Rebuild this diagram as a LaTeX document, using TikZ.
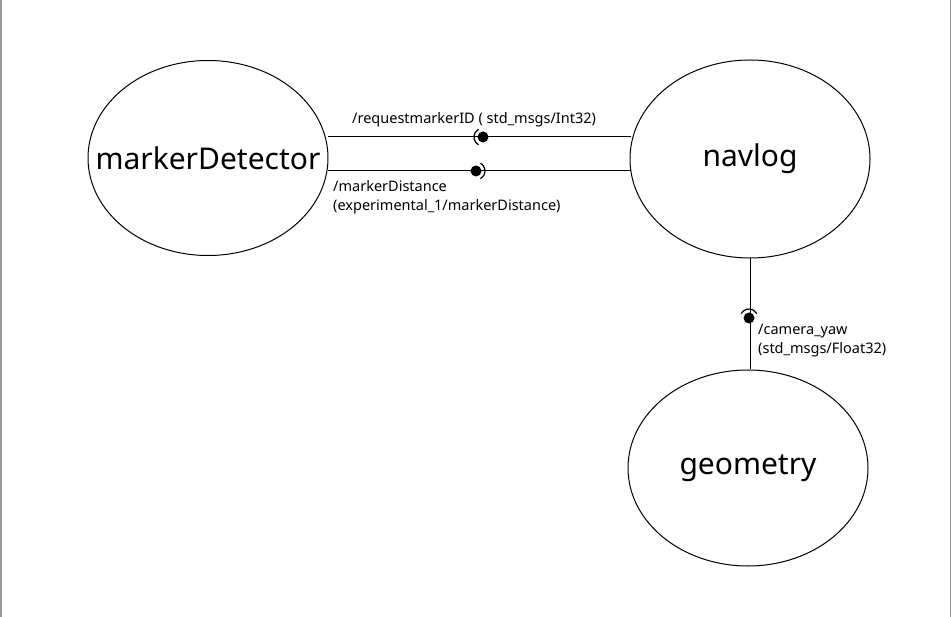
\documentclass[tikz,border=0pt]{standalone}
\usepackage{fontspec}
\setmainfont{Noto Sans}
\usetikzlibrary{shapes.geometric}
\begin{document}
\begin{tikzpicture}[x=1pt,y=-1pt,
  rosnode/.style={draw,ellipse,minimum width=240pt,minimum height=195pt,inner sep=0pt,font=\fontsize{30}{34}\selectfont, line width=1pt},
  lbl/.style={font=\fontsize{14.5}{19}\selectfont,inner sep=0pt,align=left},
  wire/.style={line width=1pt},
  ball/.style={circle,fill=black,minimum size=11pt,inner sep=0pt},
  sock/.style={line width=1.2pt}]
\useasboundingbox (0,0) rectangle (951,617);
\fill[white] (0,0) rectangle (951,617);
\draw[gray!80,line width=1.5pt] (0.75,0) -- (0.75,617);
\draw[gray!80,line width=1pt] (950.5,0) -- (950.5,617);
\node[rosnode] (md) at (208,158) {\makebox[0pt]{markerDetector}};
\node[rosnode,minimum height=198pt] (nav) at (750,159) {\makebox[0pt]{navlog}};
\node[rosnode,minimum height=196pt] (geo) at (748,468) {\makebox[0pt]{geometry}};
% top connector
\coordinate (a1) at (328,137);
\coordinate (b1) at (631,137);
\draw[wire] (a1) -- (b1);
\node[ball] (k1) at (483,137) {};
\draw[sock] ([shift={(120:9)}]k1.center) arc[start angle=120,end angle=240,radius=9];
% bottom connector
\coordinate (a2) at (328,171);
\coordinate (b2) at (631,171);
\draw[wire] (a2) -- (b2);
\node[ball] (k2) at (476,171) {};
\draw[sock] ([shift={(-60:9)}]k2.center) arc[start angle=-60,end angle=60,radius=9];
% vertical connector
\draw[wire] (nav.south) -- (geo.north -| nav.south);
\node[ball] (k3) at (749,318) {};
\draw[sock] ([shift={(210:9)}]k3.center) arc[start angle=210,end angle=330,radius=9];
% labels
\node[lbl,anchor=base west] (l1) at (352,124) {/requestmarkerID ( std\_msgs/Int32)};
\node[lbl,anchor=north west] (l2) at (333,180) {/markerDistance\\(experimental\_1/markerDistance)};
\node[lbl,anchor=north west] (l3) at (758,324) {/camera\_yaw\\(std\_msgs/Float32)};
\end{tikzpicture}
\end{document}
